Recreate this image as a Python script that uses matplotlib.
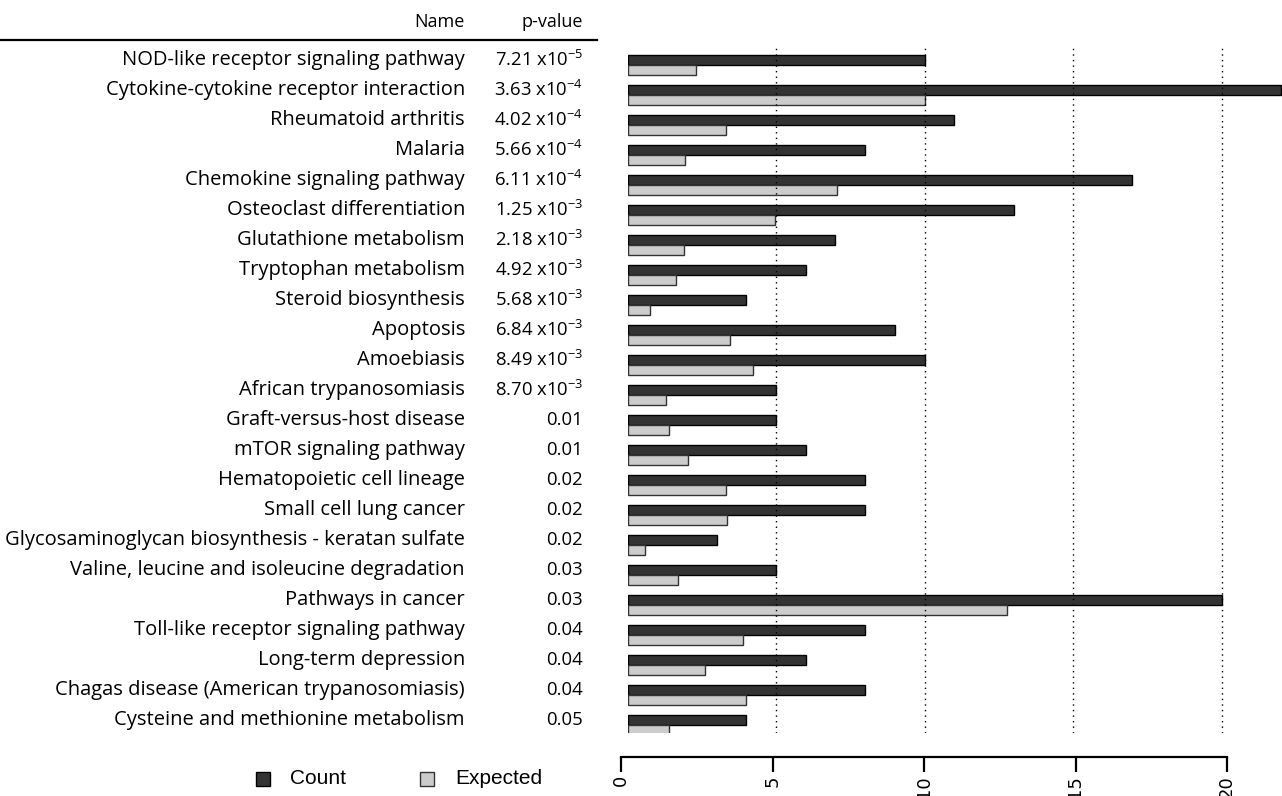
import numpy as np
import matplotlib
matplotlib.use('Agg')
import matplotlib.pyplot as plt
import matplotlib.transforms as mtransforms
from matplotlib.patches import Rectangle
from matplotlib.lines import Line2D

# pathway names, p-values, observed counts and expected counts
names = ['NOD-like receptor signaling pathway', 'Cytokine-cytokine receptor interaction',
         'Rheumatoid arthritis', 'Malaria', 'Chemokine signaling pathway',
         'Osteoclast differentiation', 'Glutathione metabolism', 'Tryptophan metabolism',
         'Steroid biosynthesis', 'Apoptosis', 'Amoebiasis', 'African trypanosomiasis',
         'Graft-versus-host disease', 'mTOR signaling pathway', 'Hematopoietic cell lineage',
         'Small cell lung cancer', 'Glycosaminoglycan biosynthesis - keratan sulfate',
         'Valine, leucine and isoleucine degradation', 'Pathways in cancer',
         'Toll-like receptor signaling pathway', 'Long-term depression',
         'Chagas disease (American trypanosomiasis)', 'Cysteine and methionine metabolism']
pvalues = [r'7.21 x10$^{-5}$', r'3.63 x10$^{-4}$', r'4.02 x10$^{-4}$', r'5.66 x10$^{-4}$',
           r'6.11 x10$^{-4}$', r'1.25 x10$^{-3}$', r'2.18 x10$^{-3}$', r'4.92 x10$^{-3}$',
           r'5.68 x10$^{-3}$', r'6.84 x10$^{-3}$', r'8.49 x10$^{-3}$', r'8.70 x10$^{-3}$',
           '0.01', '0.01', '0.02', '0.02', '0.02', '0.03', '0.03', '0.04', '0.04', '0.04', '0.05']
count = [10, 22, 11, 8, 17, 13, 7, 6, 4, 9, 10, 5, 5, 6, 8, 8, 3, 5, 20, 8, 6, 8, 4]
expected = [2.31, 10.0, 3.3, 1.94, 7.07, 4.96, 1.89, 1.62, 0.77, 3.45, 4.21, 1.31,
            1.40, 2.03, 3.32, 3.36, 0.59, 1.71, 12.79, 3.9, 2.61, 3.99, 1.40]
ticks = [0, 5, 10, 15, 20]

W, H = 1282, 796
plt.rcParams['font.family'] = ['Open Sans', 'DejaVu Sans']
plt.rcParams['mathtext.fontset'] = 'custom'
plt.rcParams['mathtext.rm'] = 'Open Sans'
plt.rcParams['mathtext.it'] = 'Open Sans'
plt.rcParams['mathtext.default'] = 'regular'

fig = plt.figure(figsize=(W/100.0, H/100.0), dpi=100)

def fx(px):
    return px/float(W)
def fy(py):
    return 1.0 - py/float(H)

# bar panel
x0 = 627.5
ax = fig.add_axes([fx(x0), fy(733), 1.0 - fx(x0), fy(45) - fy(733)])
ypos = np.arange(len(names))
bh = 0.34
ax.barh(ypos - bh/2, count, height=bh, color='#333333', edgecolor='black', linewidth=1.0, zorder=2)
ax.barh(ypos + bh/2, expected, height=bh, color='#cccccc', edgecolor='#333333', linewidth=1.0, zorder=2)
for t in ticks[1:]:
    ax.axvline(t, color='black', linestyle=(0, (1, 3)), linewidth=1.0, zorder=3)
ax.set_xlim(0, (W - x0)/29.7)
ax.set_ylim(22.27, -0.67)
ax.axis('off')

# text columns
fs = 14.5
tr = mtransforms.blended_transform_factory(fig.transFigure, ax.transData)
for i in range(len(names)):
    fig.text(fx(465), i - 0.17, names[i], transform=tr, ha='right', va='center', fontsize=fs)
    fig.text(fx(583), i - 0.17, pvalues[i], transform=tr, ha='right', va='center', fontsize=13.3)
fig.text(fx(465), fy(22), 'Name', ha='right', va='center', fontsize=13)
fig.text(fx(583), fy(22), 'p-value', ha='right', va='center', fontsize=13)
fig.add_artist(Line2D([0, fx(597)], [fy(40), fy(40)], color='black', linewidth=1.6, transform=fig.transFigure))

# value axis at the bottom
ax2 = fig.add_axes([fx(621), fy(757), fx(1227) - fx(621), 0.001])
ax2.set_xlim(0, 20)
ax2.set_xticks(ticks)
ax2.set_xticklabels([str(t) for t in ticks], rotation=90, fontsize=13, family='DejaVu Sans')
ax2.set_yticks([])
for s in ['top', 'left', 'right']:
    ax2.spines[s].set_visible(False)
ax2.spines['bottom'].set_linewidth(1.6)
ax2.tick_params(axis='x', length=11, width=1.6, pad=2)
ax2.patch.set_visible(False)

# legend
fig.add_artist(Rectangle((fx(256), fy(786)), fx(14), 14.0/H, facecolor='#333333', edgecolor='black',
                         linewidth=1.0, transform=fig.transFigure))
fig.text(fx(290), fy(779), 'Count', ha='left', va='center', fontsize=15, family='Liberation Sans')
fig.add_artist(Rectangle((fx(420), fy(786)), fx(14), 14.0/H, facecolor='#cccccc', edgecolor='#333333',
                         linewidth=1.0, transform=fig.transFigure))
fig.text(fx(455), fy(779), 'Expected', ha='left', va='center', fontsize=15, family='Liberation Sans')

fig.savefig('out.png', dpi=100)
